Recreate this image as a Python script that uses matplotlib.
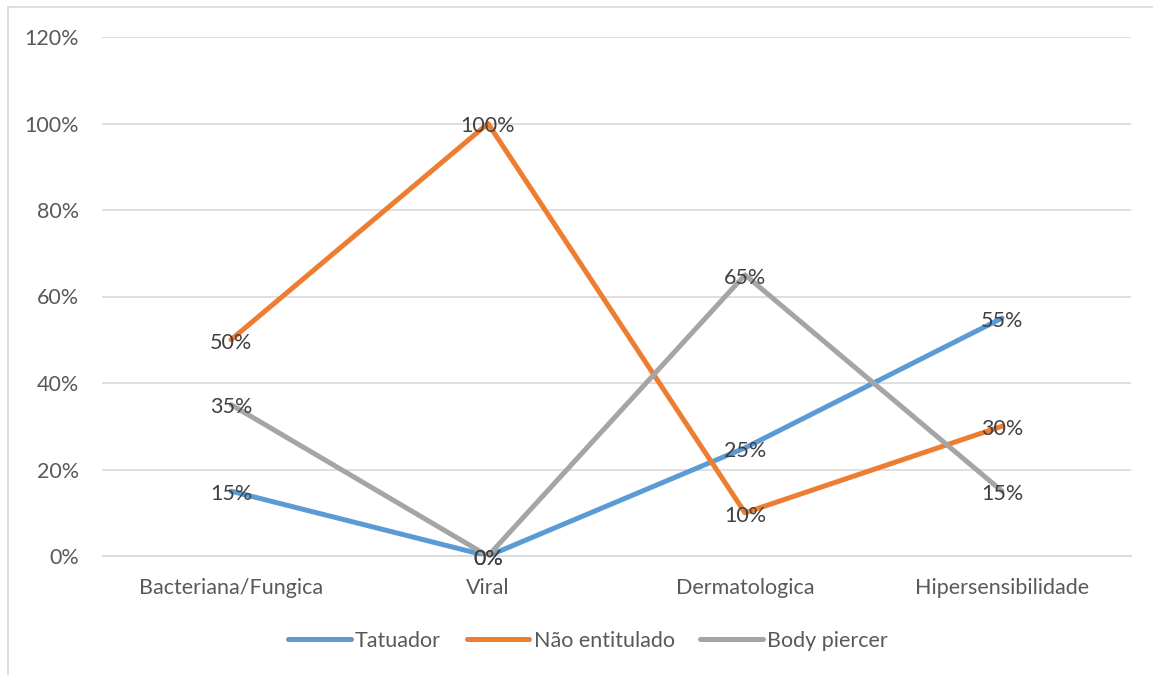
import matplotlib
matplotlib.use("Agg")
import matplotlib.pyplot as plt
from matplotlib.lines import Line2D
from matplotlib.ticker import FuncFormatter

plt.rcParams['font.family'] = ['Lato', 'DejaVu Sans']

categories = ["Bacteriana/Fungica", "Viral", "Dermatologica", "Hipersensibilidade"]
series_names = ["Tatuador", "Não entitulado", "Body piercer"]
tatuador = [0.15, 0.00, 0.25, 0.55]
nao_entitulado = [0.50, 1.00, 0.10, 0.30]
body_piercer = [0.35, 0.00, 0.65, 0.15]
colors = ["#5B9BD5", "#ED7D31", "#A5A5A5"]
yticks = [0, 0.2, 0.4, 0.6, 0.8, 1.0, 1.2]

FS = 15.5
W, H = 1153, 675
fig = plt.figure(figsize=(W / 100, H / 100), dpi=100)
ax = fig.add_axes([102.5 / W, 1 - 556 / H, (1130.5 - 102.5) / W, (556 - 37) / H])

# chart border (left and top visible)
fig.add_artist(Line2D([8 / W, 8 / W], [0, 1 - 7 / H], transform=fig.transFigure, color="#D9D9D9", lw=1.2))
fig.add_artist(Line2D([8 / W, 1], [1 - 7 / H, 1 - 7 / H], transform=fig.transFigure, color="#D9D9D9", lw=1.2))

x = list(range(len(categories)))
all_series = [tatuador, nao_entitulado, body_piercer]
for vals, name, c in zip(all_series, series_names, colors):
    ax.plot(x, vals, color=c, lw=3.6, label=name, solid_capstyle="round", zorder=3)
for vals in all_series:
    for xi, v in zip(x, vals):
        ax.annotate(f"{round(v * 100):.0f}%", (xi, v), xytext=(0, -2), textcoords="offset points",
                    ha="center", va="center", fontsize=FS, color="#404040", zorder=4)

ax.set_xlim(-0.5, len(categories) - 0.5)
ax.set_ylim(0, 1.2)
ax.set_yticks(yticks)
ax.yaxis.set_major_formatter(FuncFormatter(lambda v, p: f"{round(v * 100):.0f}%"))
ax.set_xticks(x)
ax.set_xticklabels(categories)
ax.grid(axis="y", color="#D9D9D9", lw=1.2)
ax.set_axisbelow(True)
for s in ["top", "right", "left"]:
    ax.spines[s].set_visible(False)
ax.spines["bottom"].set_color("#D9D9D9")
ax.spines["bottom"].set_linewidth(1.2)
ax.tick_params(axis="both", length=0, labelsize=FS, colors="#595959")
ax.tick_params(axis="y", pad=17)
ax.tick_params(axis="x", pad=16)

leg = fig.legend(loc="center", bbox_to_anchor=(0.51, 1 - 641 / H), ncol=3, frameon=False,
                 fontsize=FS, handlelength=2.9, handletextpad=0.2, columnspacing=1.2)
for t in leg.get_texts():
    t.set_color("#595959")

fig.savefig("out.png", dpi=100, facecolor="white")
